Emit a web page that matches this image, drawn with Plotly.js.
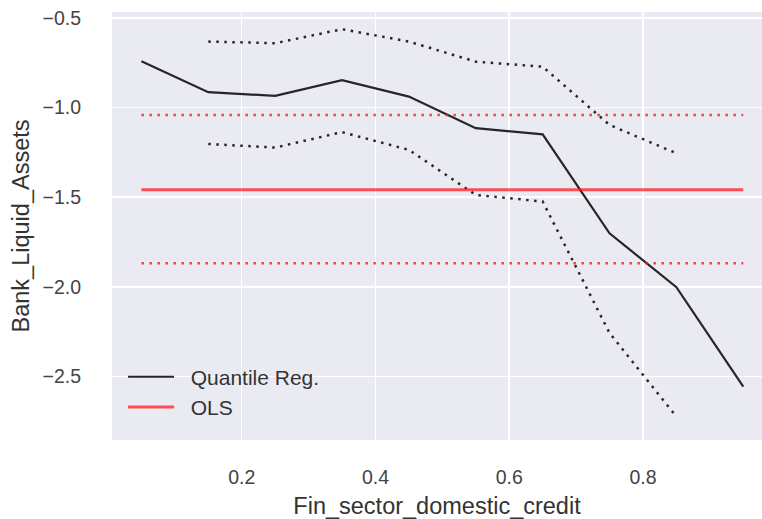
<!DOCTYPE html>
<html>
<head>
<meta charset="utf-8">
<script src="https://cdn.plot.ly/plotly-3.0.1.min.js"></script>
<style>
html,body{margin:0;padding:0;background:#fff;overflow:hidden;}
#chart{width:762px;height:519px;}
</style>
</head>
<body>
<div id="chart"></div>
<script>
// Quantiles (x) and estimates
const quantiles = [0.05, 0.15, 0.25, 0.35, 0.45, 0.55, 0.65, 0.75, 0.85, 0.95];
const quantReg  = [-0.741, -0.914, -0.935, -0.847, -0.939, -1.115, -1.149, -1.701, -2.002, -2.556];
const upperQuantiles = [0.15, 0.25, 0.35, 0.45, 0.55, 0.65, 0.75, 0.85];
const upperBound = [-0.632, -0.641, -0.563, -0.632, -0.744, -0.772, -1.097, -1.255];
const lowerBound = [-1.203, -1.223, -1.137, -1.236, -1.487, -1.524, -2.257, -2.724];
const olsCoef  = -1.459;
const olsUpper = -1.041;
const olsLower = -1.868;
const xTicks = [0.2, 0.4, 0.6, 0.8];
const yTicks = [-0.5, -1.0, -1.5, -2.0, -2.5];
const yTickLabels = ['\u22120.5', '\u22121.0', '\u22121.5', '\u22122.0', '\u22122.5'];
const seriesNames = ['Quantile Reg.', 'OLS'];

const olsX = [quantiles[0], quantiles[quantiles.length - 1]];
const dotDash = '2.5px,5.5px';
const pad = '\u00a0\u00a0';

const traces = [
  {x: quantiles, y: quantReg, mode: 'lines', name: pad + seriesNames[0],
   line: {color: '#262626', width: 2.2}},
  {x: upperQuantiles, y: upperBound, mode: 'lines', showlegend: false,
   line: {color: '#262626', width: 2.5, dash: dotDash}},
  {x: upperQuantiles, y: lowerBound, mode: 'lines', showlegend: false,
   line: {color: '#262626', width: 2.5, dash: dotDash}},
  {x: olsX, y: [olsCoef, olsCoef], mode: 'lines', name: pad + seriesNames[1],
   line: {color: 'rgba(255,20,20,0.72)', width: 3}},
  {x: olsX, y: [olsUpper, olsUpper], mode: 'lines', showlegend: false,
   line: {color: 'rgba(255,20,20,0.8)', width: 2.5, dash: dotDash}},
  {x: olsX, y: [olsLower, olsLower], mode: 'lines', showlegend: false,
   line: {color: 'rgba(255,20,20,0.8)', width: 2.5, dash: dotDash}}
];

const fontFam = '"Liberation Sans", Arial, sans-serif';
const layout = {
  width: 762, height: 519,
  margin: {l: 112, r: 0, t: 12, b: 79},
  paper_bgcolor: '#ffffff',
  plot_bgcolor: '#EAEAF2',
  font: {family: fontFam, color: '#333333', size: 19.5},
  showlegend: true,
  legend: {
    x: 0.017, y: 0.029, xanchor: 'left', yanchor: 'bottom',
    bgcolor: 'rgba(0,0,0,0)', font: {size: 21, color: '#333333'},
    itemwidth: 46, tracegroupgap: 0
  },
  xaxis: {
    range: [0.006, 0.978],
    tickvals: xTicks, ticktext: xTicks.map(v => v.toFixed(1)),
    showgrid: true, gridcolor: '#ffffff', gridwidth: 1.5,
    zeroline: false, showline: false,
    ticks: 'outside', ticklen: 20, tickcolor: 'rgba(0,0,0,0)',
    tickfont: {size: 19.5, color: '#444444'},
    title: {text: 'Fin_sector_domestic_credit', font: {size: 23.5, color: '#333333'}, standoff: 13}
  },
  yaxis: {
    range: [-2.854, -0.467],
    tickvals: yTicks, ticktext: yTickLabels,
    showgrid: true, gridcolor: '#ffffff', gridwidth: 1.5,
    zeroline: false, showline: false,
    ticks: 'outside', ticklen: 26, tickcolor: 'rgba(0,0,0,0)',
    tickfont: {size: 19.5, color: '#444444'},
    title: {text: 'Bank_Liquid_Assets', font: {size: 23.5, color: '#333333'}, standoff: 6}
  }
};

Plotly.newPlot('chart', traces, layout, {displayModeBar: false, staticPlot: true});
</script>
</body>
</html>
